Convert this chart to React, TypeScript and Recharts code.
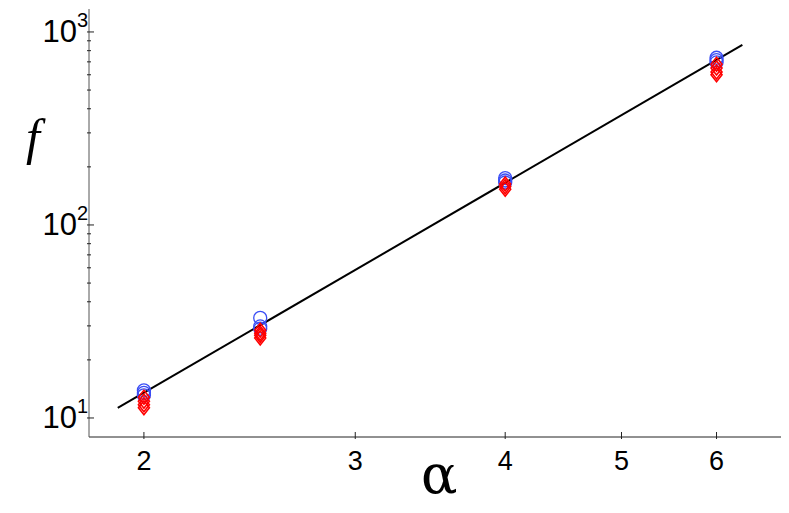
import React from "react";
import { ScatterChart, Scatter, XAxis, YAxis } from "recharts";

const circleAlpha = [2, 2, 2, 2.5, 2.5, 2.5, 4, 4, 4, 6, 6, 6];
const circleF = [13.9, 13.5, 13.1, 33, 29.8, 29, 175, 170, 166, 735, 715, 695];
const diamondAlpha = [2, 2, 2, 2, 2.5, 2.5, 2.5, 2.5, 4, 4, 4, 6, 6, 6, 6];
const diamondF = [12.8, 12.2, 11.7, 11.3, 28.5, 27.5, 26.8, 26, 163, 158, 153, 680, 650, 620, 600];
const fitAlpha = [1.902, 6.305];
const fitF = [11.27, 856];

const xTicks = [2, 3, 4, 5, 6];
const yMajor = [10, 100, 1000];
const yTicks = [10, 20, 30, 40, 50, 60, 70, 80, 90, 100, 200, 300, 400, 500, 600, 700, 800, 900, 1000];
const xDomain = [1.8, 6.79];
const yDomain = [7.97, 1315];

const circles = circleAlpha.map((a, i) => ({ a, f: circleF[i] }));
const diamonds = diamondAlpha.map((a, i) => ({ a, f: diamondF[i] }));
const fit = fitAlpha.map((a, i) => ({ a, f: fitF[i] }));

const AX = "#222";
const SANS = "'Liberation Sans', Arial, sans-serif";

const LeftTick = (p: any) => {
  const v = p.payload.value;
  const major = yMajor.includes(v);
  const exp = Math.round(Math.log10(v));
  return (
    <g>
      <line x1={p.x} x2={p.x + (major ? 7 : 4)} y1={p.y} y2={p.y} stroke={AX} strokeWidth={1} />
      {major && (
        <text x={p.x - 10} y={p.y + 10} textAnchor="end" style={{ fontFamily: SANS, fontSize: 31 }} fill="#000">
          10
        </text>
      )}
      {major && (
        <text x={p.x - 10} y={p.y - 5} textAnchor="start" style={{ fontFamily: SANS, fontSize: 20 }} fill="#000">
          {exp}
        </text>
      )}
    </g>
  );
};

const RightTick = (p: any) => {
  const v = p.payload.value;
  const major = yMajor.includes(v);
  return <line x1={p.x} x2={p.x - (major ? 7 : 4)} y1={p.y} y2={p.y} stroke={AX} strokeWidth={1} />;
};

const BottomTick = (p: any) => (
  <g>
    <line x1={p.x} x2={p.x} y1={p.y} y2={p.y - 7} stroke={AX} strokeWidth={1} />
    <text x={p.x} y={p.y + 31} textAnchor="middle" style={{ fontFamily: "'Liberation Sans Narrow', " + SANS, fontSize: 27 }} fill="#000">
      {p.payload.value}
    </text>
  </g>
);

const TopTick = (p: any) => <line x1={p.x} x2={p.x} y1={p.y} y2={p.y + 7} stroke={AX} strokeWidth={1} />;

const CircleShape = (p: any) => <circle cx={p.cx} cy={p.cy} r={6.5} fill="none" stroke="#3a4df5" strokeWidth={1.3} />;
const DiamondShape = (p: any) => (
  <polygon
    points={`${p.cx},${p.cy - 7} ${p.cx + 5.5},${p.cy} ${p.cx},${p.cy + 7} ${p.cx - 5.5},${p.cy}`}
    fill="none"
    stroke="#ff0000"
    strokeWidth={1.6}
  />
);
const NoShape = () => <g />;

export default function App() {
  return (
    <div style={{ position: "relative", width: 781, height: 505 }}>
      <ScatterChart width={781} height={505} margin={{ top: 1, right: 8, bottom: 16, left: 0 }}>
        <XAxis xAxisId="b" dataKey="a" type="number" scale="log" domain={xDomain} allowDataOverflow ticks={xTicks} tick={BottomTick} tickSize={0} tickLine={false} height={60} stroke={AX} />
        <XAxis xAxisId="t" orientation="top" dataKey="a" type="number" scale="log" domain={xDomain} allowDataOverflow ticks={xTicks} tick={TopTick} tickSize={0} tickLine={false} height={0} stroke={AX} />
        <YAxis yAxisId="l" dataKey="f" type="number" scale="log" domain={yDomain} allowDataOverflow ticks={yTicks} interval={0} tick={LeftTick} tickSize={0} tickLine={false} width={81} stroke="#555" />
        <YAxis yAxisId="r" orientation="right" dataKey="f" type="number" scale="log" domain={yDomain} allowDataOverflow ticks={yTicks} interval={0} tick={RightTick} tickSize={0} tickLine={false} width={0} stroke={AX} />
        <Scatter xAxisId="b" yAxisId="l" data={fit} line={{ stroke: "#000", strokeWidth: 2 }} lineType="joint" shape={NoShape} isAnimationActive={false} />
        <Scatter xAxisId="b" yAxisId="l" data={circles} shape={CircleShape} isAnimationActive={false} />
        <Scatter xAxisId="b" yAxisId="l" data={diamonds} shape={DiamondShape} isAnimationActive={false} />
      </ScatterChart>
      <div style={{ position: "absolute", left: 413, top: 440, fontFamily: "'DejaVu Serif', serif", fontSize: 54, lineHeight: "54px" }}>α</div>
      <div style={{ position: "absolute", left: 18, top: 104, fontFamily: "'Liberation Serif', serif", fontStyle: "italic", fontSize: 50, lineHeight: "50px" }}>f</div>
    </div>
  );
}
